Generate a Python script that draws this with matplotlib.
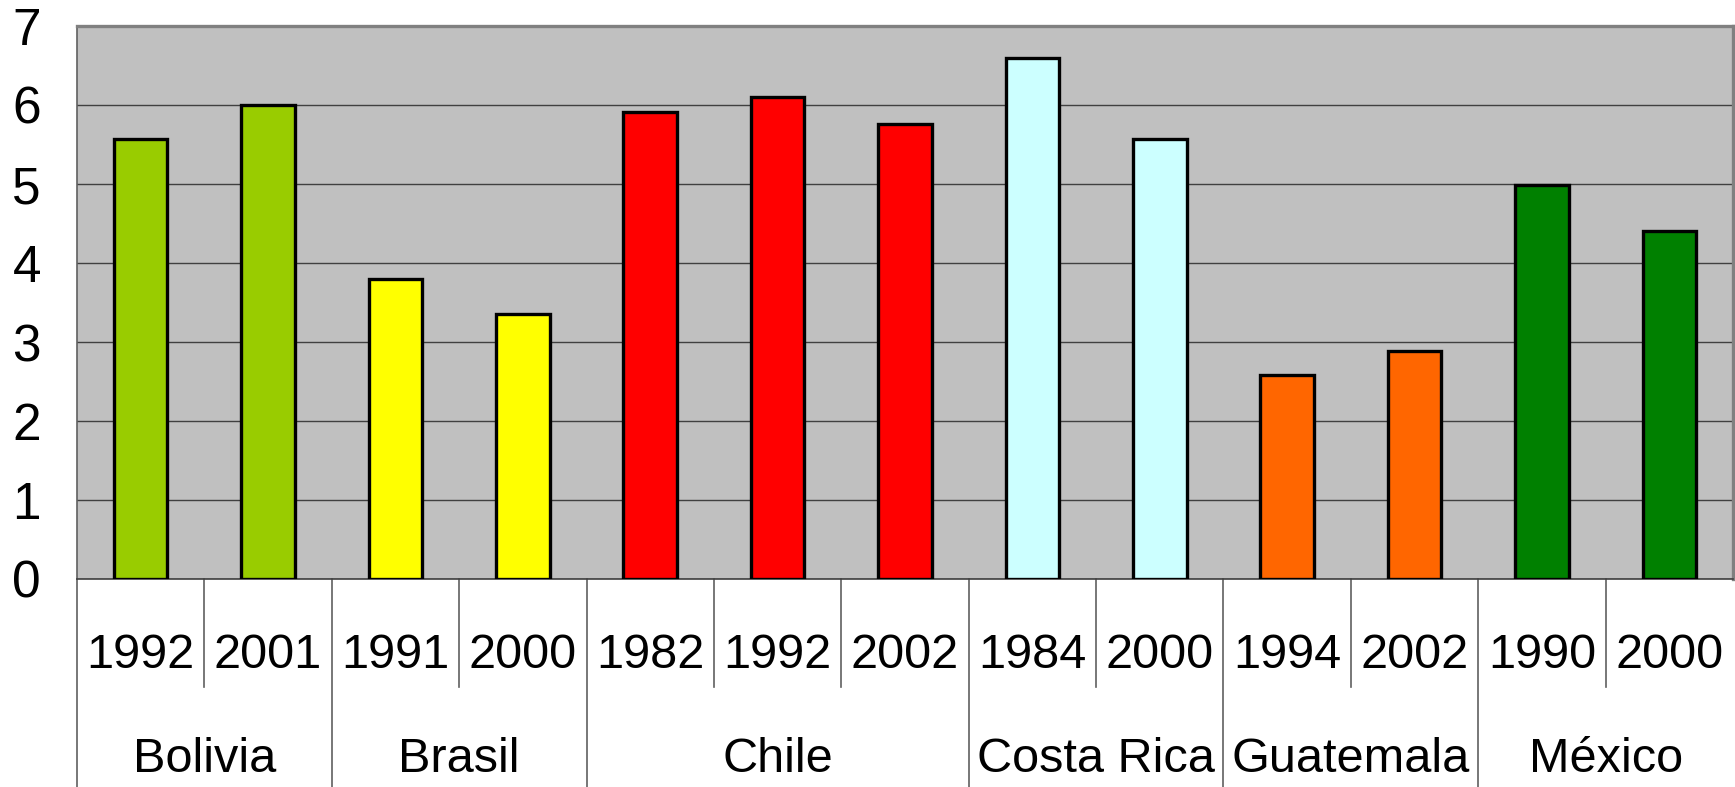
import matplotlib.pyplot as plt
from matplotlib.transforms import blended_transform_factory

plt.rcParams['font.family'] = ['Liberation Sans', 'DejaVu Sans']

# Data
countries = ['Bolivia', 'Brasil', 'Chile', 'Costa Rica', 'Guatemala', 'México']
years = [['1992', '2001'], ['1991', '2000'], ['1982', '1992', '2002'],
         ['1984', '2000'], ['1994', '2002'], ['1990', '2000']]
values = [[5.57, 6.0], [3.8, 3.35], [5.91, 6.1, 5.76],
          [6.6, 5.57], [2.58, 2.88], [4.99, 4.4]]
colors = ['#99CC00', '#FFFF00', '#FF0000', '#CCFFFF', '#FF6600', '#008000']

W, H = 1735, 787
fig = plt.figure(figsize=(W / 100, H / 100), dpi=100)
ax = fig.add_axes([77 / W, 1 - 579 / H, (1733 - 77) / W, (579 - 26) / H])
ax.set_facecolor('#C0C0C0')

# bars, one block per country
x = 0
group_edges = [-0.5]
for c, yrs, vals, col in zip(countries, years, values, colors):
    for yr, v in zip(yrs, vals):
        ax.bar(x, v, width=0.42, color=col, edgecolor='black', linewidth=2.4, zorder=3)
        x += 1
    group_edges.append(x - 0.5)

n = x
ax.set_xlim(-0.5, n - 0.5)
ax.set_ylim(0, 7)
ax.set_yticks(range(8))
ax.set_xticks([])
ax.tick_params(axis='y', length=0, pad=26, labelsize=37)
ax.yaxis.grid(True, color='#404040', linewidth=1.0, zorder=1)
ax.set_axisbelow(True)

for s in ['top', 'right']:
    ax.spines[s].set_color('#808080')
    ax.spines[s].set_linewidth(2.4)
ax.spines['left'].set_color('#606060')
ax.spines['left'].set_linewidth(1.2)
ax.spines['bottom'].set_color('#404040')
ax.spines['bottom'].set_linewidth(1.2)

# category table under the axis
tr = blended_transform_factory(ax.transData, fig.transFigure)
y_base = 1 - 579 / H
y_short = 1 - 687 / H

for e in group_edges[:-1]:
    ax.plot([e, e], [y_base, 0], transform=tr, color='#606060', lw=1.2, clip_on=False)

x = 0
for c, yrs, start, end in zip(countries, years, group_edges[:-1], group_edges[1:]):
    for i, yr in enumerate(yrs):
        ax.text(x, 1 - 668 / H, yr, transform=tr, ha='center', va='baseline', fontsize=35)
        if i > 0:
            ax.plot([x - 0.5, x - 0.5], [y_base, y_short], transform=tr,
                    color='#606060', lw=1.2, clip_on=False)
        x += 1
    ax.text((start + end) / 2, 1 - 772 / H, c, transform=tr,
            ha='center', va='baseline', fontsize=35)

fig.savefig('out.png', dpi=100)
